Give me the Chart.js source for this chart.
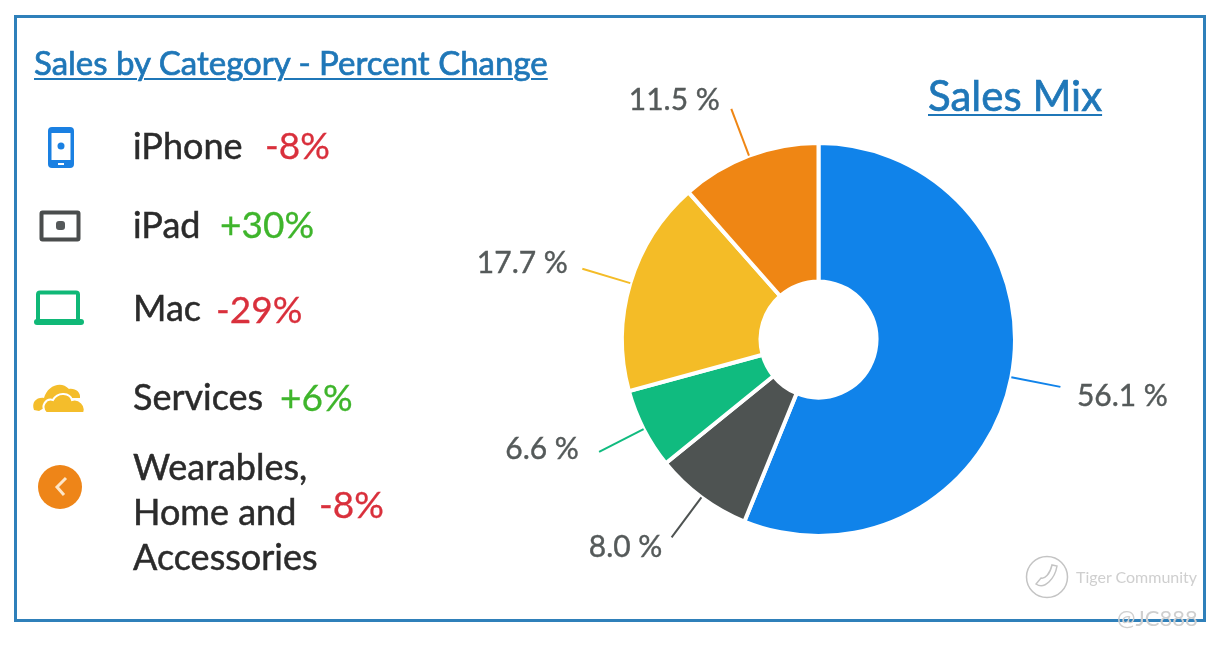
<!DOCTYPE html>
<html>
<head>
<meta charset="utf-8">
<script src="https://cdn.jsdelivr.net/npm/chart.js@4"></script>
<style>
html, body { margin: 0; padding: 0; background: #fff; width: 1223px; height: 645px; overflow: hidden; font-family: Lato, "Open Sans", sans-serif; }
#myChart { position: absolute; left: 0; top: 0; }
#frame { position: absolute; left: 14px; top: 15px; width: 1186px; height: 601px; border: 3px solid #2f80ba; box-sizing: content-box; }
.title { position: absolute; color: #1f77b8; text-decoration: underline; text-decoration-thickness: 2px; text-underline-offset: 3px; white-space: nowrap; -webkit-text-stroke: 0.7px #1f77b8; }
#leftTitle { left: 34px; top: 43px; font-size: 33px; line-height: 38px; }
#rightTitle { left: 928px; top: 71px; font-size: 42px; line-height: 48px; }
.cat, .chg { position: absolute; white-space: pre; line-height: 45px; }
.cat { color: #2b2b2b; font-size: 36px; -webkit-text-stroke: 0.5px #2b2b2b; }
.chg { font-size: 37px; -webkit-text-stroke: 0.3px currentColor; }
.icon { position: absolute; }
.mark { position: absolute; color: #cfcfcf; white-space: nowrap; }
#page { position: absolute; left: 0; top: 0; width: 1223px; height: 645px; filter: blur(0.45px); }
</style>
</head>
<body>
<div id="page">
<div id="frame"></div>
<canvas id="myChart" width="1223" height="645"></canvas>
<div class="title" id="leftTitle">Sales by Category - Percent Change</div>
<div class="title" id="rightTitle">Sales Mix</div>
<div id="rows"></div>

<svg class="icon" style="left:44px;top:125px" width="34" height="46" viewBox="0 0 34 46">
  <rect x="4" y="2" width="26" height="41" rx="4" fill="#1a80e2"/>
  <rect x="7.5" y="8" width="19" height="27" fill="#fff"/>
  <circle cx="17" cy="21" r="3.5" fill="#1a80e2"/>
  <rect x="14" y="38" width="6" height="2" fill="#fff"/>
</svg>
<svg class="icon" style="left:38px;top:209px" width="44" height="34" viewBox="0 0 44 34">
  <rect x="3.5" y="3.5" width="37" height="27" rx="1" fill="#fff" stroke="#4a4d4d" stroke-width="4"/>
  <rect x="18" y="12" width="9" height="9" rx="3" fill="#55595a"/>
</svg>
<svg class="icon" style="left:33px;top:289px" width="52" height="40" viewBox="0 0 52 40">
  <rect x="5" y="3.5" width="40" height="29" rx="2" fill="#fff" stroke="#10b877" stroke-width="4"/>
  <rect x="1" y="30" width="50" height="6" rx="3" fill="#10b877"/>
</svg>
<svg class="icon" style="left:31px;top:378px" width="56" height="38" viewBox="0 0 56 38">
  <path d="M3 32 C0 24 6 19 13 20 C16 8 30 2 38 11 C44 10 50 14 49 20 L30 20 L8 33 Z" fill="#f4bd2b"/>
  <path d="M15 35 C9 28 15 20 22 22 C27 13 39 15 41 22 C48 20 56 27 53 35 Z" fill="#f4bd2b" stroke="#fff" stroke-width="2"/>
</svg>
<svg class="icon" style="left:37px;top:464px" width="46" height="46" viewBox="0 0 46 46">
  <circle cx="23" cy="23" r="22" fill="#ee8518"/>
  <path d="M29 14 L20 23 L27 31" fill="none" stroke="#fde6c8" stroke-width="3"/>
</svg>

<svg class="icon" style="left:1025px;top:554px" width="44" height="46" viewBox="0 0 44 46">
  <circle cx="22" cy="23" r="20.5" fill="none" stroke="#c4c4c4" stroke-width="1.5"/>
  <path d="M11 30 C20 36 30 24 32 12 L27 11 C25 20 20 25 16 24 Z" fill="none" stroke="#c4c4c4" stroke-width="1.5"/>
</svg>
<div class="mark" style="left:1076px;top:566px;font-size:16px;line-height:22px;">Tiger Community</div>
<div class="mark" style="left:1117px;top:605px;font-size:22px;line-height:26px;">@JC888</div>
</div>

<script>
const categories = ['iPhone', 'iPad', 'Mac', 'Services', 'Wearables,\nHome and\nAccessories'];
const changes = ['-8%', '+30%', '-29%', '+6%', '-8%'];

const sliceNames = ['iPhone', 'Wearables, Home and Accessories', 'Services', 'Mac', 'iPad'];
const sliceValues = [56.1, 8.0, 6.6, 17.7, 11.5];
const sliceLabels = ['56.1 %', '8.0 %', '6.6 %', '17.7 %', '11.5 %'];

const sliceColors = ['#1083ea', '#4e5352', '#10bb7f', '#f4bc27', '#ef8614'];
const catPos = [[133, 123], [133, 202], [133, 285], [133, 374], [133, 444]];
const chgPos = [[265, 122], [220, 201], [216, 286], [280, 374], [319, 481]];

// html side of the left panel
const rows = document.getElementById('rows');
categories.forEach((name, i) => {
    const cat = document.createElement('div');
    cat.className = 'cat';
    cat.style.left = catPos[i][0] + 'px';
    cat.style.top = catPos[i][1] + 'px';
    cat.textContent = name;
    rows.appendChild(cat);

    const chg = document.createElement('div');
    chg.className = 'chg';
    chg.style.left = chgPos[i][0] + 'px';
    chg.style.top = chgPos[i][1] + 'px';
    chg.style.color = changes[i].charAt(0) === '+' ? '#3fb52c' : '#d9303c';
    chg.textContent = changes[i];
    rows.appendChild(chg);
});

// leader line and value label for every slice
const lineLength = 50;
const labelOffset = [[62, 9], [-46, 10], [-57, -3], [-60, -5], [-57, -9]];

const leaderLabels = {
    id: 'leaderLabels',
    afterDatasetsDraw(chart) {
        const ctx = chart.ctx;
        chart.getDatasetMeta(0).data.forEach((arc, i) => {
            const mid = (arc.startAngle + arc.endAngle) / 2;
            const x1 = arc.x + Math.cos(mid) * arc.outerRadius;
            const y1 = arc.y + Math.sin(mid) * arc.outerRadius;
            const x2 = arc.x + Math.cos(mid) * (arc.outerRadius + lineLength);
            const y2 = arc.y + Math.sin(mid) * (arc.outerRadius + lineLength);

            ctx.save();
            ctx.strokeStyle = sliceColors[i];
            ctx.lineWidth = 2;
            ctx.beginPath();
            ctx.moveTo(x1, y1);
            ctx.lineTo(x2, y2);
            ctx.stroke();

            ctx.fillStyle = '#555a5a';
            ctx.strokeStyle = '#555a5a';
            ctx.lineWidth = 0.4;
            ctx.font = '30px Lato';
            ctx.textAlign = 'center';
            ctx.textBaseline = 'middle';
            ctx.fillText(sliceLabels[i], x2 + labelOffset[i][0], y2 + labelOffset[i][1]);
            ctx.strokeText(sliceLabels[i], x2 + labelOffset[i][0], y2 + labelOffset[i][1]);
            ctx.restore();
        });
    }
};

new Chart(document.getElementById('myChart'), {
    type: 'doughnut',
    data: {
        labels: sliceNames,
        datasets: [{
            data: sliceValues,
            backgroundColor: sliceColors,
            borderColor: '#ffffff',
            borderWidth: 4
        }]
    },
    options: {
        responsive: false,
        animation: false,
        cutout: '29.5%',
        layout: { padding: { left: 620, right: 206, top: 141, bottom: 107 } },
        plugins: {
            legend: { display: false },
            title: { display: false },
            tooltip: { enabled: false }
        }
    },
    plugins: [leaderLabels]
});
</script>
</body>
</html>
